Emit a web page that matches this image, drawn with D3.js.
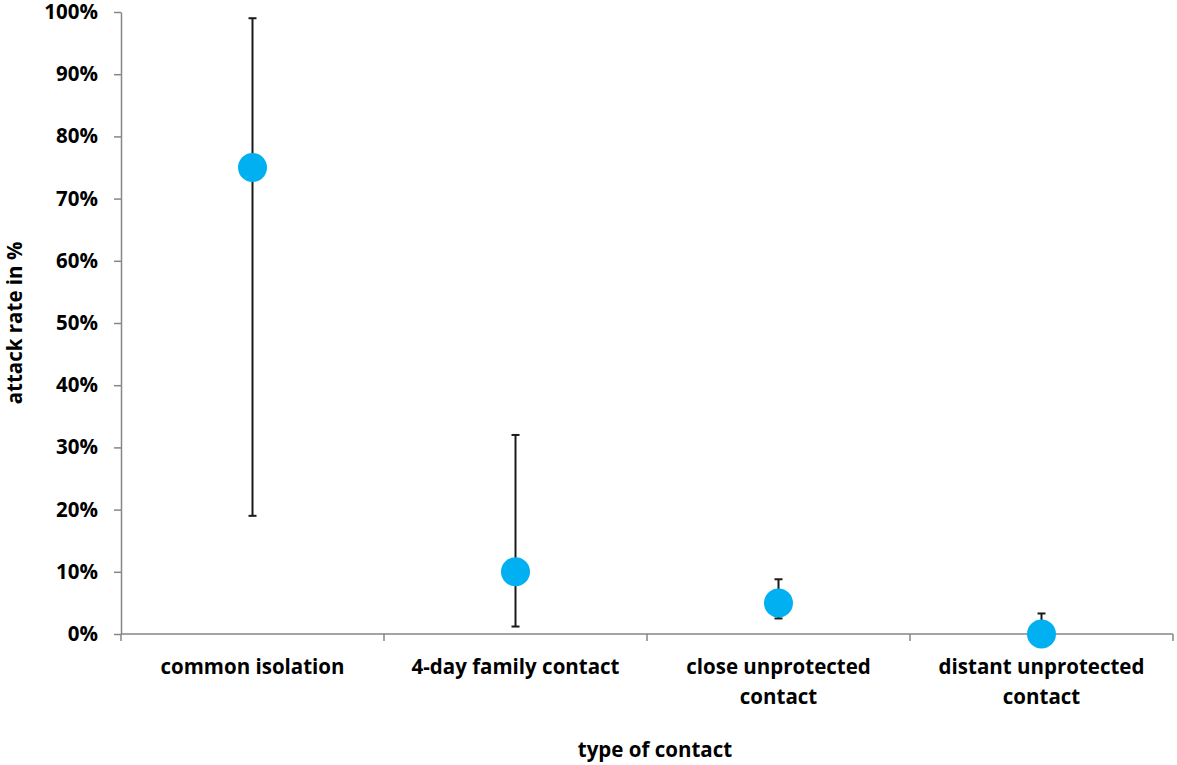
<!DOCTYPE html>
<html>
<head>
<meta charset="utf-8">
<script src="https://cdn.jsdelivr.net/npm/d3@7"></script>
<style>
  body { margin: 0; background: #fff; }
  text { font-family: "Open Sans", Lato, sans-serif; font-weight: bold; fill: #000; }
</style>
</head>
<body>
<svg id="drawing_region"></svg>
<script>
// data
const categories = [["common isolation"], ["4-day family contact"], ["close unprotected", "contact"], ["distant unprotected", "contact"]];
const rates = [0.75, 0.10, 0.05, 0.00];
const lower = [0.19, 0.012, 0.025, 0.0];
const upper = [0.99, 0.32, 0.088, 0.033];
const yticks = [0, 0.1, 0.2, 0.3, 0.4, 0.5, 0.6, 0.7, 0.8, 0.9, 1.0];

const config = {
    width: 1177,
    height: 765,
    margin: {top: 12, right: 4, bottom: 131, left: 121}
};
const fontSize = '20.5px';

const data = categories.map((c, i) => ({name: c.join(" "), lines: c, v: rates[i], lo: lower[i], hi: upper[i]}));

const svg = d3.select('#drawing_region')
    .attr('width', config.width)
    .attr('height', config.height);

const chart = svg.append('g')
    .attr('transform', `translate(${config.margin.left}, ${config.margin.top})`);

const inner_width = config.width - config.margin.left - config.margin.right;
const inner_height = config.height - config.margin.top - config.margin.bottom;

const xscale = d3.scaleBand()
    .domain(data.map(d => d.name))
    .range([0, inner_width]);

const yscale = d3.scaleLinear()
    .domain([0, 1])
    .range([inner_height, 0]);

// y axis
const yaxis = d3.axisLeft(yscale)
    .tickValues(yticks)
    .tickFormat(d3.format('.0%'))
    .tickSize(7)
    .tickSizeOuter(0)
    .tickPadding(16);

const yaxis_group = chart.append('g').call(yaxis);
yaxis_group.selectAll('path, line').attr('stroke', '#868686').attr('stroke-width', 1.5);
yaxis_group.selectAll('text').style('font-size', fontSize);

// x axis: ticks at category boundaries
const xaxis_group = chart.append('g')
    .attr('transform', `translate(0, ${inner_height})`);
xaxis_group.append('line')
    .attr('x1', 0).attr('x2', inner_width)
    .attr('stroke', '#868686').attr('stroke-width', 1.5);
const bounds = data.map(d => xscale(d.name)).concat([inner_width]);
xaxis_group.selectAll('.xtick')
    .data(bounds)
    .join('line')
    .attr('class', 'xtick')
    .attr('x1', d => d).attr('x2', d => d)
    .attr('y1', 0).attr('y2', 7)
    .attr('stroke', '#868686').attr('stroke-width', 1.5);

const labels = xaxis_group.selectAll('.xlabel')
    .data(data)
    .join('text')
    .attr('class', 'xlabel')
    .attr('text-anchor', 'middle')
    .style('font-size', fontSize)
    .attr('transform', d => `translate(${xscale(d.name) + xscale.bandwidth() / 2}, 40)`);
labels.selectAll('tspan')
    .data(d => d.lines)
    .join('tspan')
    .attr('x', 0)
    .attr('dy', (d, i) => i === 0 ? 0 : 30)
    .text(d => d);

// error bars
const cx = d => xscale(d.name) + xscale.bandwidth() / 2;
const bars = chart.append('g').selectAll('g')
    .data(data)
    .join('g')
    .attr('stroke', '#1a1a1a')
    .attr('stroke-width', 2);
bars.append('line')
    .attr('x1', cx).attr('x2', cx)
    .attr('y1', d => yscale(d.lo)).attr('y2', d => yscale(d.hi));
bars.append('line')
    .attr('x1', d => cx(d) - 4).attr('x2', d => cx(d) + 4)
    .attr('y1', d => yscale(d.hi)).attr('y2', d => yscale(d.hi));
bars.filter(d => d.lo > 0).append('line')
    .attr('x1', d => cx(d) - 4).attr('x2', d => cx(d) + 4)
    .attr('y1', d => yscale(d.lo)).attr('y2', d => yscale(d.lo));

// points
chart.append('g').selectAll('circle')
    .data(data)
    .join('circle')
    .attr('cx', cx)
    .attr('cy', d => yscale(d.v))
    .attr('r', 14.5)
    .attr('fill', '#00B0F0');

// axis titles
svg.append('text')
    .attr('text-anchor', 'middle')
    .style('font-size', fontSize)
    .attr('transform', `translate(22, ${config.margin.top + inner_height / 2}) rotate(-90)`)
    .text('attack rate in %');

svg.append('text')
    .attr('text-anchor', 'middle')
    .style('font-size', fontSize)
    .attr('x', 655)
    .attr('y', 757)
    .text('type of contact');
</script>
</body>
</html>
